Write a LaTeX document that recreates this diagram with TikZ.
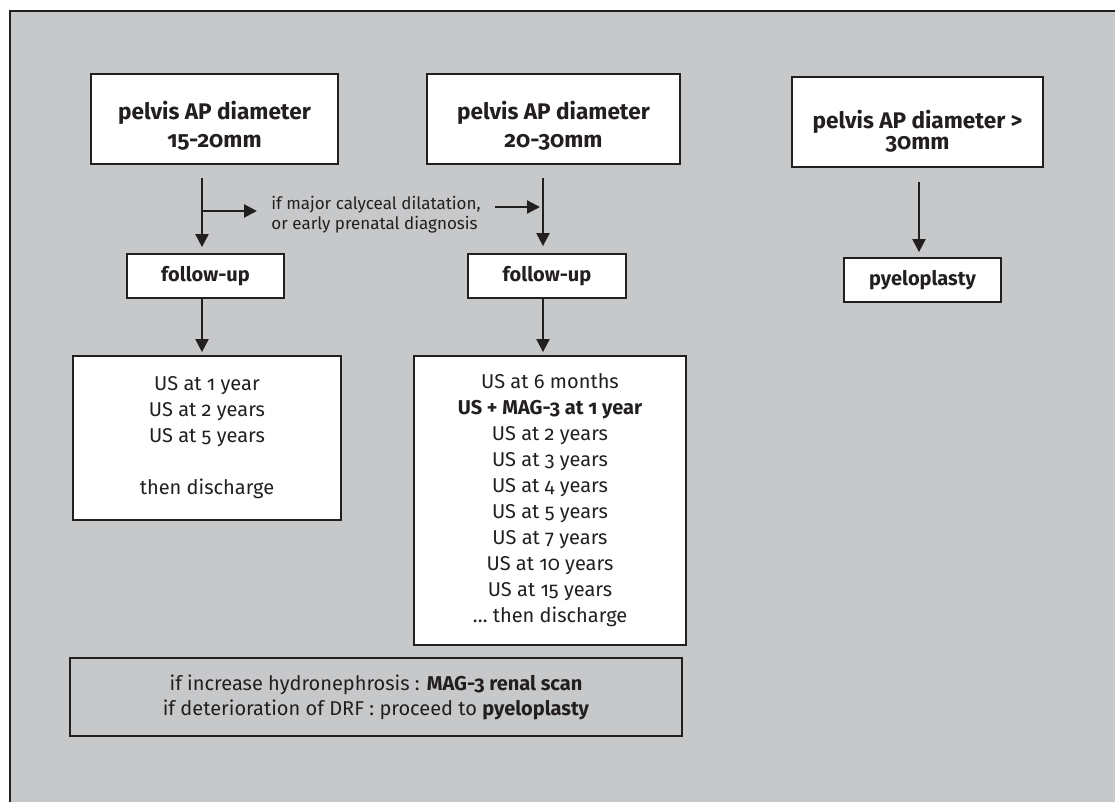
\documentclass[tikz,border=0pt]{standalone}
\usepackage{fontspec}
\setmainfont{Fira Sans}[Numbers=OldStyle]
\usepackage{xcolor}
\usetikzlibrary{arrows.meta}
\definecolor{panelgray}{RGB}{199,200,202}
\definecolor{inkdark}{RGB}{35,31,32}

\begin{document}
\begin{tikzpicture}[x=0.5pt, y=-0.5pt,
    box/.style={draw=inkdark, line width=0.9pt, fill=white, align=center, inner sep=0pt, text=inkdark},
    headbox/.style={box, font=\bfseries\fontsize{11.3}{14}\selectfont, minimum height=45pt},
    stepbox/.style={box, font=\bfseries\fontsize{10}{12}\selectfont, minimum height=22pt},
    listbox/.style={box, font=\fontsize{10}{13}\selectfont},
    arr/.style={-{Triangle[length=6.5pt,width=6.5pt]}, line width=1.1pt, draw=inkdark}]
    \useasboundingbox (0,0) rectangle (1115,802);
    \clip (0,0) rectangle (1115,802);
    \fill[white] (0,0) rectangle (1115,802);
    \draw[fill=panelgray, draw=inkdark, line width=1pt] (10,11) rectangle (1140,830); % frame runs off the page

    \node[headbox, minimum width=123.5pt] (hdA) at (214.5,119) {\rule{0pt}{16pt}pelvis AP diameter\\15-20mm};
    \node[headbox, minimum width=126.5pt] (hdB) at (553.5,119) {\rule{0pt}{16pt}pelvis AP diameter\\20-30mm};
    \node[headbox, minimum width=125.5pt] (hdC) at (917.5,122) {\rule{0pt}{18.5pt}pelvis AP diameter >\\[-3.5pt]30mm};

    \node[stepbox, minimum width=78.5pt] (fuA) at (205.5,276) {follow-up};
    \node[stepbox, minimum width=79pt] (fuB) at (547,276) {follow-up};
    \node[stepbox, minimum width=78.5pt] (pyl) at (922.5,280) {pyeloplasty};

    \node[listbox, minimum width=134pt, minimum height=82pt] (lsA) at (207,438) {US at 1 year\\US at 2 years\\US at 5 years\\[13pt]then discharge};
    \node[listbox, minimum width=136pt, minimum height=144.5pt] (lsB) at (550,500.5) {US at 6 months\\\textbf{US + MAG-3 at 1 year}\\US at 2 years\\US at 3 years\\US at 4 years\\US at 5 years\\US at 7 years\\US at 10 years\\US at 15 years\\\ldots\ then discharge};

    \node[box, fill=panelgray, font=\fontsize{10}{12.5}\selectfont, minimum width=306pt, minimum height=39pt] (note) at (376,697) {if increase hydronephrosis : \textbf{MAG-3 renal scan}\\if deterioration of DRF : proceed to \textbf{pyeloplasty}};

    \node[anchor=west, align=left, inner sep=0pt, text=inkdark, font=\fontsize{8.5}{10}\selectfont] (cond) at (271,215) {if major calyceal dilatation,\\or early prenatal diagnosis};

    \coordinate (colA) at (202,0);
    \coordinate (colB) at (543,0);
    \coordinate (colC) at (919,0);
    \coordinate (brA) at (202,211);
    \coordinate (brB) at (543,207);

    \draw[arr, shorten <=6.5pt, shorten >=3pt] (hdA.south -| colA) -- (fuA.north -| colA);
    \draw[arr, shorten >=1.5pt] (fuA.south -| colA) -- (lsA.north -| colA);
    \draw[arr, shorten >=7pt] (brA) -- (brA -| cond.west);
    \draw[arr, shorten >=1.5pt] ([xshift=-24pt]brB) -- (brB);
    \draw[arr, shorten <=6.5pt, shorten >=3.5pt] (hdB.south -| colB) -- (fuB.north -| colB);
    \draw[arr, shorten >=1.5pt] (fuB.south -| colB) -- (lsB.north -| colB);
    \draw[arr, shorten <=7pt, shorten >=2.5pt] (hdC.south -| colC) -- (pyl.north -| colC);
\end{tikzpicture}
\end{document}
